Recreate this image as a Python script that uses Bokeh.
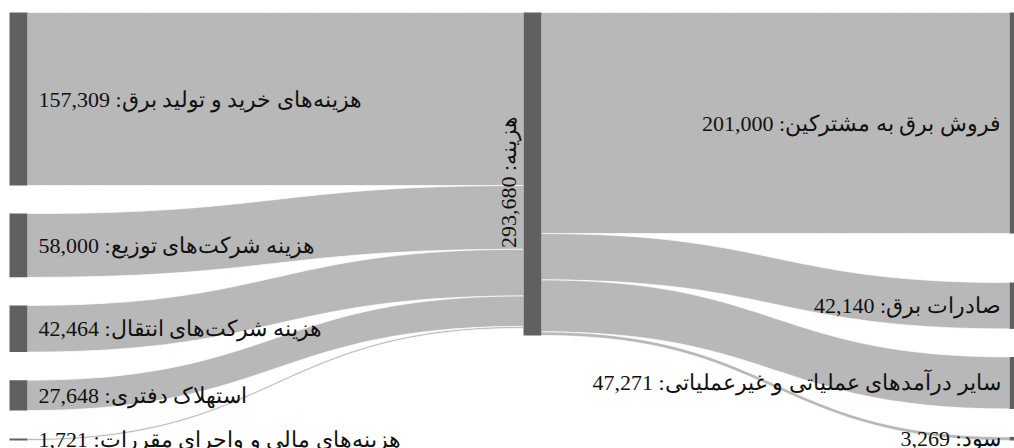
import numpy as np
from bokeh.plotting import figure
from bokeh.models import Range1d, ColumnDataSource
from bokeh.core.properties import value
from bokeh.embed import file_html
from bokeh.resources import INLINE

# ---------------- data ----------------
left_names = [
    "هزینه‌های خرید و تولید برق",
    "هزینه شرکت‌های توزیع",
    "هزینه شرکت‌های انتقال",
    "استهلاک دفتری",
    "هزینه‌های مالی و واجرای مقررات",
]
left_values = [157309, 58000, 42464, 27648, 1721]

middle_name = "هزینه"

right_names = [
    "فروش برق به مشترکین",
    "صادرات برق",
    "سایر درآمدهای عملیاتی و غیرعملیاتی",
    "سود",
]
right_values = [201000, 42140, 47271, 3269]

# ---------------- layout (pixels) ----------------
W, H = 1014, 448
AREA_TOP = 12
AREA_H = 428
NODE_W = 18
COL_X = [9, 523, 1009]
RIGHT_GAPS = [49, 28, 28]
LINK_COLOR = "#b8b8b8"
NODE_COLOR = "#606060"
FONT = "Liberation Serif"
FONT_SIZE = "22px"

middle_value = max(sum(left_values), sum(right_values))
k = (AREA_H - sum(RIGHT_GAPS)) / sum(right_values)  # px per unit

# left column tops (uniform padding)
gap_left = (AREA_H / k - sum(left_values)) / (len(left_values) - 1)
left_tops = []
y = 0.0
for v in left_values:
    left_tops.append(y)
    y += v + gap_left

right_tops = []
y = 0.0
for i, v in enumerate(right_values):
    right_tops.append(y)
    if i < len(RIGHT_GAPS):
        y += v + RIGHT_GAPS[i] / k

mid_top = 0.0


def link_patch(x0, x1, sy0, sy1, ty0, ty1, n=60):
    t = np.linspace(0, 1, n)
    xm = (x0 + x1) / 2
    bx = (1 - t) ** 3 * x0 + 3 * (1 - t) ** 2 * t * xm + 3 * (1 - t) * t ** 2 * xm + t ** 3 * x1
    h = 3 * t ** 2 - 2 * t ** 3
    top = sy0 + (ty0 - sy0) * h
    bot = sy1 + (ty1 - sy1) * h
    xs = np.concatenate([bx, bx[::-1]])
    ys = np.concatenate([top, bot[::-1]])
    return list(xs), list(ys)


link_xs, link_ys = [], []
# left -> middle
acc = mid_top
for top, v in zip(left_tops, left_values):
    xs, ys = link_patch(COL_X[0] + NODE_W, COL_X[1], top, top + v, acc, acc + v)
    link_xs.append(xs)
    link_ys.append(ys)
    acc += v
# middle -> right
acc = mid_top
for top, v in zip(right_tops, right_values):
    xs, ys = link_patch(COL_X[1] + NODE_W, COL_X[2], acc, acc + v, top, top + v)
    link_xs.append(xs)
    link_ys.append(ys)
    acc += v

# nodes
n_left = [COL_X[0]] * len(left_values) + [COL_X[1]] + [COL_X[2]] * len(right_values)
n_top = left_tops + [mid_top] + right_tops
n_val = left_values + [middle_value] + right_values
n_bottom = [t + v for t, v in zip(n_top, n_val)]
n_right = [x + NODE_W for x in n_left]

p = figure(
    width=W,
    height=H,
    output_backend="svg",
    toolbar_location=None,
    x_axis_type=None,
    y_axis_type=None,
    min_border=0,
    x_range=Range1d(0, W),
    y_range=Range1d((H - AREA_TOP) / k, -AREA_TOP / k),
)
p.outline_line_color = None
p.background_fill_color = "white"
p.border_fill_color = "white"

p.patches(
    xs=link_xs, ys=link_ys, fill_color=LINK_COLOR, fill_alpha=1.0,
    line_color="white", line_alpha=0.7, line_width=1,
)
p.quad(left=n_left, right=n_right, top=n_top, bottom=n_bottom,
       fill_color=NODE_COLOR, line_color=None)

# labels
left_src = ColumnDataSource(dict(
    x=[COL_X[0] + NODE_W + 11] * len(left_values),
    y=[t + v / 2 for t, v in zip(left_tops, left_values)],
    text=[f"{n}: {v:,}" for n, v in zip(left_names, left_values)],
))
p.text(x="x", y="y", text="text", source=left_src, text_align="left",
       text_baseline="middle", text_font=value(FONT), text_font_size=FONT_SIZE,
       text_color="#111111")

right_src = ColumnDataSource(dict(
    x=[COL_X[2] - 9] * len(right_values),
    y=[t + v / 2 for t, v in zip(right_tops, right_values)],
    text=[f"{n}: {v:,}" for n, v in zip(right_names, right_values)],
))
p.text(x="x", y="y", text="text", source=right_src, text_align="right",
       text_baseline="middle", text_font=value(FONT), text_font_size=FONT_SIZE,
       text_color="#111111")

mid_src = ColumnDataSource(dict(
    x=[COL_X[1] - 15],
    y=[mid_top + middle_value / 2 + 8 / k],
    text=[f"{middle_name}: {middle_value:,}"],
))
p.text(x="x", y="y", text="text", source=mid_src, text_align="center",
       text_baseline="middle", angle=np.pi / 2, text_font=value(FONT),
       text_font_size=FONT_SIZE, text_color="#111111")

open("out.html", "w").write(file_html(p, INLINE))
